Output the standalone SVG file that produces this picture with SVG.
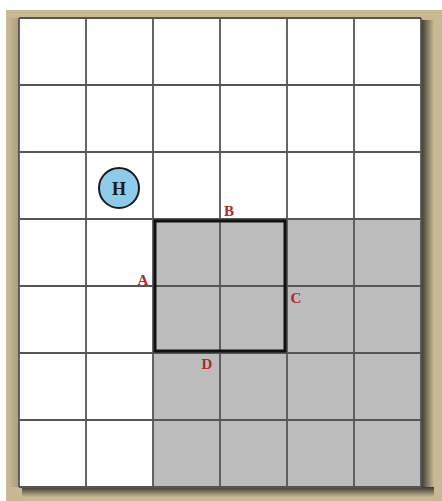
<svg xmlns="http://www.w3.org/2000/svg" width="442" height="501" viewBox="0 0 442 501">
  <defs>
    <linearGradient id="shR" x1="0" y1="0" x2="1" y2="0">
      <stop offset="0" stop-color="#3a3630"/>
      <stop offset="1" stop-color="#c8b993"/>
    </linearGradient>
    <linearGradient id="shB" x1="0" y1="0" x2="0" y2="1">
      <stop offset="0" stop-color="#3a3630"/>
      <stop offset="1" stop-color="#c8b993"/>
    </linearGradient>
    <linearGradient id="shL" x1="0" y1="0" x2="1" y2="0">
      <stop offset="0" stop-color="#c8b993"/>
      <stop offset="1" stop-color="#a89c7c"/>
    </linearGradient>
    <style>
      .grid line { stroke: #555555; stroke-width: 1.8; }
      .lbl { font-family: "Liberation Serif", "DejaVu Serif", serif; font-weight: bold; font-size: 15px; fill: #b02828; text-anchor: middle; }
    </style>
  </defs>
  <rect width="442" height="501" fill="#ffffff"/>
  <!-- frame -->
  <rect x="6" y="10" width="436" height="491" fill="#c8b993"/>
  <rect x="8" y="18" width="11" height="469" fill="url(#shL)"/>
  <rect x="421" y="20" width="13" height="474" fill="url(#shR)"/>
  <rect x="22" y="487" width="412" height="10" fill="url(#shB)"/>
  <!-- board -->
  <rect x="19" y="18" width="402" height="469" fill="#ffffff"/>
  <rect x="153" y="219" width="268" height="268" fill="#bcbcbc"/>
  <g class="grid">
    <line x1="19" y1="18" x2="19" y2="487"/>
    <line x1="86" y1="18" x2="86" y2="487"/>
    <line x1="153" y1="18" x2="153" y2="487"/>
    <line x1="220" y1="18" x2="220" y2="487"/>
    <line x1="287" y1="18" x2="287" y2="487"/>
    <line x1="354" y1="18" x2="354" y2="487"/>
    <line x1="421" y1="18" x2="421" y2="487"/>
    <line x1="19" y1="18" x2="421" y2="18"/>
    <line x1="19" y1="85" x2="421" y2="85"/>
    <line x1="19" y1="152" x2="421" y2="152"/>
    <line x1="19" y1="219" x2="421" y2="219"/>
    <line x1="19" y1="286" x2="421" y2="286"/>
    <line x1="19" y1="353" x2="421" y2="353"/>
    <line x1="19" y1="420" x2="421" y2="420"/>
    <line x1="19" y1="487" x2="421" y2="487"/>
  </g>
  <g id="square">
    <rect x="155" y="221" width="130" height="130" fill="none" stroke="#111" stroke-width="3"/>
  </g>
  <g id="H">
    <circle cx="119" cy="188" r="20" fill="#8ecbea" stroke="#1a1a1a" stroke-width="2"/>
    <text x="119" y="194.5" font-family="Liberation Serif, DejaVu Serif, serif" font-weight="bold" font-size="18" text-anchor="middle" fill="#1a1a1a">H</text>
  </g>
  <g id="labels">
    <text class="lbl" x="229" y="216">B</text>
    <text class="lbl" x="143" y="285">A</text>
    <text class="lbl" x="296" y="303">C</text>
    <text class="lbl" x="207" y="369">D</text>
  </g>
</svg>
